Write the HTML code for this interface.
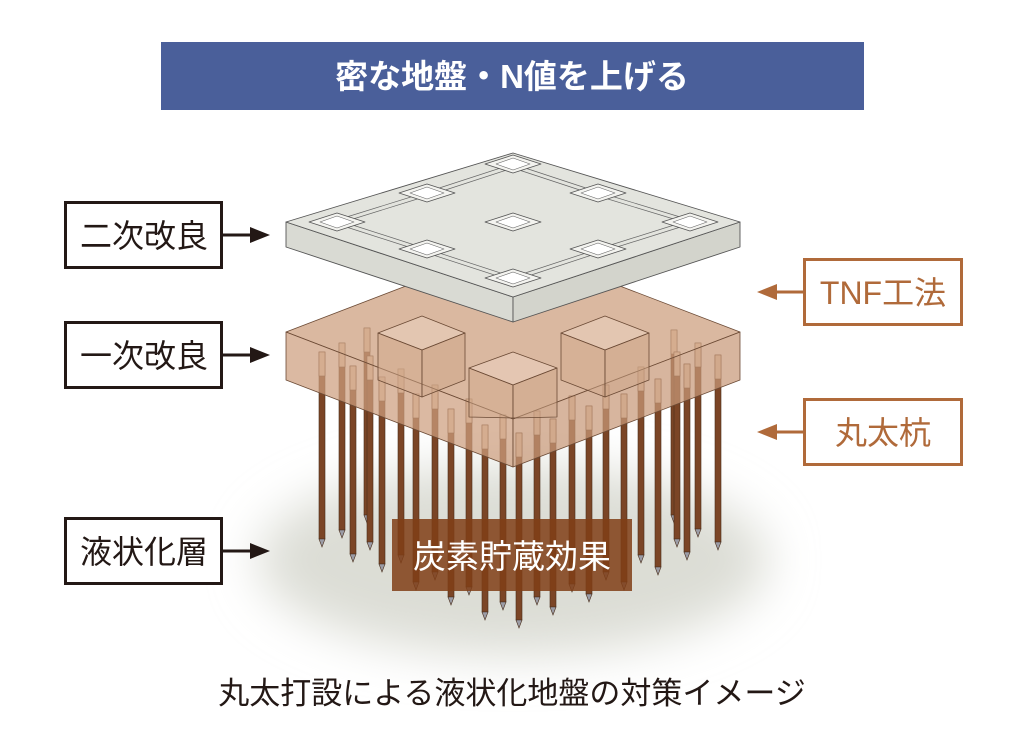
<!DOCTYPE html>
<html><head><meta charset="utf-8"><style>
html,body{margin:0;padding:0;background:#fff;}
body{width:1024px;height:747px;overflow:hidden;position:relative;font-family:"Liberation Sans","Noto Sans CJK JP",sans-serif;}
svg{position:absolute;left:0;top:0;}
</style></head><body>
<svg width="1024" height="747" viewBox="0 0 1024 747" xmlns="http://www.w3.org/2000/svg">
<defs>
<filter id="bl" x="-50%" y="-50%" width="200%" height="200%"><feGaussianBlur stdDeviation="24"/></filter>
<g id="pk"><polygon points="-28,0 0,-9 28,0 0,9" fill="#f3f3ef" stroke="#555" stroke-width="0.8"/><polygon points="-17,0 0,-6 17,0 0,6" fill="#fff" stroke="#666" stroke-width="0.6"/></g>
</defs>
<!-- title -->
<rect x="161" y="42" width="703" height="68" fill="#4a5f9a"/>
<text x="512" y="88" text-anchor="middle" font-size="33" font-weight="bold" fill="#fff" font-family="Liberation Sans,Noto Sans CJK JP,sans-serif">密な地盤・N値を上げる</text>

<!-- shadow -->
<ellipse cx="513" cy="560" rx="255" ry="95" fill="#dcddd5" filter="url(#bl)"/>

<g stroke="#4a2e1c" stroke-width="0.6">
<rect x="364" y="328" width="6" height="187" fill="#7b4526"/><rect x="364" y="328" width="6" height="24" fill="#ead2bd"/><polygon points="364,515 370,515 367,523" fill="#9b9ca6"/>
<rect x="671" y="330" width="6" height="185" fill="#7b4526"/><rect x="671" y="330" width="6" height="24" fill="#ead2bd"/><polygon points="671,515 677,515 674,523" fill="#9b9ca6"/>
<rect x="339" y="343" width="6" height="187" fill="#7b4526"/><rect x="339" y="343" width="6" height="24" fill="#ead2bd"/><polygon points="339,530 345,530 342,538" fill="#9b9ca6"/>
<rect x="695" y="343" width="6" height="186" fill="#7b4526"/><rect x="695" y="343" width="6" height="24" fill="#ead2bd"/><polygon points="695,529 701,529 698,537" fill="#9b9ca6"/>
<rect x="319" y="352" width="6" height="187" fill="#7b4526"/><rect x="319" y="352" width="6" height="24" fill="#ead2bd"/><polygon points="319,539 325,539 322,547" fill="#9b9ca6"/>
<rect x="674" y="352" width="6" height="187" fill="#7b4526"/><rect x="674" y="352" width="6" height="24" fill="#ead2bd"/><polygon points="674,539 680,539 677,547" fill="#9b9ca6"/>
<rect x="715" y="355" width="6" height="187" fill="#7b4526"/><rect x="715" y="355" width="6" height="24" fill="#ead2bd"/><polygon points="715,542 721,542 718,550" fill="#9b9ca6"/>
<rect x="367" y="356" width="6" height="186" fill="#7b4526"/><rect x="367" y="356" width="6" height="24" fill="#ead2bd"/><polygon points="367,542 373,542 370,550" fill="#9b9ca6"/>
<rect x="684" y="364" width="6" height="188" fill="#7b4526"/><rect x="684" y="364" width="6" height="24" fill="#ead2bd"/><polygon points="684,552 690,552 687,560" fill="#9b9ca6"/>
<rect x="350" y="366" width="6" height="188" fill="#7b4526"/><rect x="350" y="366" width="6" height="24" fill="#ead2bd"/><polygon points="350,554 356,554 353,562" fill="#9b9ca6"/>
<rect x="638" y="367" width="6" height="188" fill="#7b4526"/><rect x="638" y="367" width="6" height="24" fill="#ead2bd"/><polygon points="638,555 644,555 641,563" fill="#9b9ca6"/>
<rect x="398" y="369" width="6" height="186" fill="#7b4526"/><rect x="398" y="369" width="6" height="24" fill="#ead2bd"/><polygon points="398,555 404,555 401,563" fill="#9b9ca6"/>
<rect x="379" y="377" width="6" height="187" fill="#7b4526"/><rect x="379" y="377" width="6" height="24" fill="#ead2bd"/><polygon points="379,564 385,564 382,572" fill="#9b9ca6"/>
<rect x="655" y="379" width="6" height="188" fill="#7b4526"/><rect x="655" y="379" width="6" height="24" fill="#ead2bd"/><polygon points="655,567 661,567 658,575" fill="#9b9ca6"/>
<rect x="432" y="385" width="6" height="187" fill="#7b4526"/><rect x="432" y="385" width="6" height="24" fill="#ead2bd"/><polygon points="432,572 438,572 435,580" fill="#9b9ca6"/>
<rect x="603" y="385" width="6" height="187" fill="#7b4526"/><rect x="603" y="385" width="6" height="24" fill="#ead2bd"/><polygon points="603,572 609,572 606,580" fill="#9b9ca6"/>
<rect x="413" y="394" width="6" height="188" fill="#7b4526"/><rect x="413" y="394" width="6" height="24" fill="#ead2bd"/><polygon points="413,582 419,582 416,590" fill="#9b9ca6"/>
<rect x="621" y="394" width="6" height="188" fill="#7b4526"/><rect x="621" y="394" width="6" height="24" fill="#ead2bd"/><polygon points="621,582 627,582 624,590" fill="#9b9ca6"/>
<rect x="569" y="396" width="6" height="188" fill="#7b4526"/><rect x="569" y="396" width="6" height="24" fill="#ead2bd"/><polygon points="569,584 575,584 572,592" fill="#9b9ca6"/>
<rect x="466" y="399" width="6" height="188" fill="#7b4526"/><rect x="466" y="399" width="6" height="24" fill="#ead2bd"/><polygon points="466,587 472,587 469,595" fill="#9b9ca6"/>
<rect x="586" y="406" width="6" height="188" fill="#7b4526"/><rect x="586" y="406" width="6" height="24" fill="#ead2bd"/><polygon points="586,594 592,594 589,602" fill="#9b9ca6"/>
<rect x="448" y="409" width="6" height="188" fill="#7b4526"/><rect x="448" y="409" width="6" height="24" fill="#ead2bd"/><polygon points="448,597 454,597 451,605" fill="#9b9ca6"/>
<rect x="534" y="411" width="6" height="186" fill="#7b4526"/><rect x="534" y="411" width="6" height="24" fill="#ead2bd"/><polygon points="534,597 540,597 537,605" fill="#9b9ca6"/>
<rect x="500" y="415" width="6" height="187" fill="#7b4526"/><rect x="500" y="415" width="6" height="24" fill="#ead2bd"/><polygon points="500,602 506,602 503,610" fill="#9b9ca6"/>
<rect x="550" y="419" width="6" height="188" fill="#7b4526"/><rect x="550" y="419" width="6" height="24" fill="#ead2bd"/><polygon points="550,607 556,607 553,615" fill="#9b9ca6"/>
<rect x="482" y="425" width="6" height="187" fill="#7b4526"/><rect x="482" y="425" width="6" height="24" fill="#ead2bd"/><polygon points="482,612 488,612 485,620" fill="#9b9ca6"/>
<rect x="516" y="433" width="6" height="187" fill="#7b4526"/><rect x="516" y="433" width="6" height="24" fill="#ead2bd"/><polygon points="516,620 522,620 519,628" fill="#9b9ca6"/>
</g>

<!-- brown layer (translucent) -->
<g stroke="#6b4a35" stroke-width="0.8" stroke-linejoin="round">
<polygon points="286,332 513,245 740,332 513,419" fill="rgba(205,160,128,0.75)"/>
<polygon points="286,332 513,419 513,467 286,380" fill="rgba(205,158,126,0.72)"/>
<polygon points="513,419 740,332 740,380 513,467" fill="rgba(200,152,120,0.72)"/>
<polygon points="378,333 422,316 465,333 422,350" fill="rgba(228,200,180,0.85)"/>
<polygon points="378,333 422,350 422,397 378,380" fill="rgba(210,170,140,0.5)"/>
<polygon points="422,350 465,333 465,380 422,397" fill="rgba(205,165,135,0.5)"/>
<polygon points="561,333 605,316 649,333 605,350" fill="rgba(228,200,180,0.85)"/>
<polygon points="561,333 605,350 605,397 561,380" fill="rgba(210,170,140,0.5)"/>
<polygon points="605,350 649,333 649,380 605,397" fill="rgba(205,165,135,0.5)"/>
<polygon points="469,368 513,352 557,368 513,385" fill="rgba(228,200,180,0.9)"/>
<polygon points="469,368 513,385 513,418 469,417" fill="rgba(210,170,140,0.5)"/>
<polygon points="513,385 557,368 557,417 513,418" fill="rgba(205,165,135,0.5)"/>
</g>

<!-- slab -->
<g stroke="#555" stroke-width="0.9" stroke-linejoin="round">
<polygon points="286,222 513,297 513,322 286,247" fill="#d9dad3"/>
<polygon points="513,297 740,222 740,247 513,322" fill="#d3d4cc"/>
<polygon points="286,222 513,153 740,222 513,297" fill="#e3e4de"/>
<g stroke="#666" stroke-width="0.7" fill="none">
<polyline points="337,220 427,192 513,164 598,192 690,220 598,249 513,277 427,249 337,220"/>
<polyline points="337,224 427,196 513,168 598,196 690,224 598,253 513,281 427,253 337,224"/>
</g>
<use href="#pk" x="513" y="164"/>
<use href="#pk" x="427" y="193"/>
<use href="#pk" x="598" y="193"/>
<use href="#pk" x="337" y="222"/>
<use href="#pk" x="690" y="222"/>
<use href="#pk" x="513" y="222"/>
<use href="#pk" x="427" y="249"/>
<use href="#pk" x="598" y="249"/>
<use href="#pk" x="513" y="278"/>
</g>

<!-- carbon box -->
<rect x="392" y="519" width="240" height="72" fill="rgba(128,62,22,0.85)"/>
<text x="512" y="568" text-anchor="middle" font-size="33" fill="#fff" font-family="Liberation Sans,Noto Sans CJK JP,sans-serif">炭素貯蔵効果</text>

<!-- left labels -->
<g font-family="Liberation Sans,Noto Sans CJK JP,sans-serif" font-size="32" fill="#231815">
<rect x="65.5" y="202.5" width="156" height="65" fill="#fff" stroke="#231815" stroke-width="3"/>
<text x="144" y="247" text-anchor="middle">二次改良</text>
<rect x="65.5" y="322.5" width="156" height="65" fill="#fff" stroke="#231815" stroke-width="3"/>
<text x="144" y="367" text-anchor="middle">一次改良</text>
<rect x="65.5" y="518.5" width="156" height="65" fill="#fff" stroke="#231815" stroke-width="3"/>
<text x="144" y="563" text-anchor="middle">液状化層</text>
</g>
<g stroke="#231815" stroke-width="3" fill="#231815">
<line x1="223" y1="235" x2="252" y2="235"/><polygon points="250,227 270,235 250,243" stroke="none"/>
<line x1="223" y1="355" x2="252" y2="355"/><polygon points="250,347 270,355 250,363" stroke="none"/>
<line x1="223" y1="551" x2="252" y2="551"/><polygon points="250,543 270,551 250,559" stroke="none"/>
</g>

<!-- right labels -->
<g font-family="Liberation Sans,Noto Sans CJK JP,sans-serif" font-size="32" fill="#b06a3a">
<rect x="804.5" y="259.5" width="157" height="65" fill="#fff" stroke="#b06a3a" stroke-width="3"/>
<text x="883" y="304" text-anchor="middle">TNF工法</text>
<rect x="804.5" y="399.5" width="157" height="65" fill="#fff" stroke="#b06a3a" stroke-width="3"/>
<text x="883" y="444" text-anchor="middle">丸太杭</text>
</g>
<g stroke="#b06a3a" stroke-width="3" fill="#b06a3a">
<line x1="775" y1="292" x2="803" y2="292"/><polygon points="777,284 757,292 777,300" stroke="none"/>
<line x1="775" y1="432" x2="803" y2="432"/><polygon points="777,424 757,432 777,440" stroke="none"/>
</g>

<!-- caption -->
<text x="512" y="704" text-anchor="middle" font-size="31" fill="#231815" font-family="Liberation Sans,Noto Sans CJK JP,sans-serif">丸太打設による液状化地盤の対策イメージ</text>
</svg>
</body></html>
